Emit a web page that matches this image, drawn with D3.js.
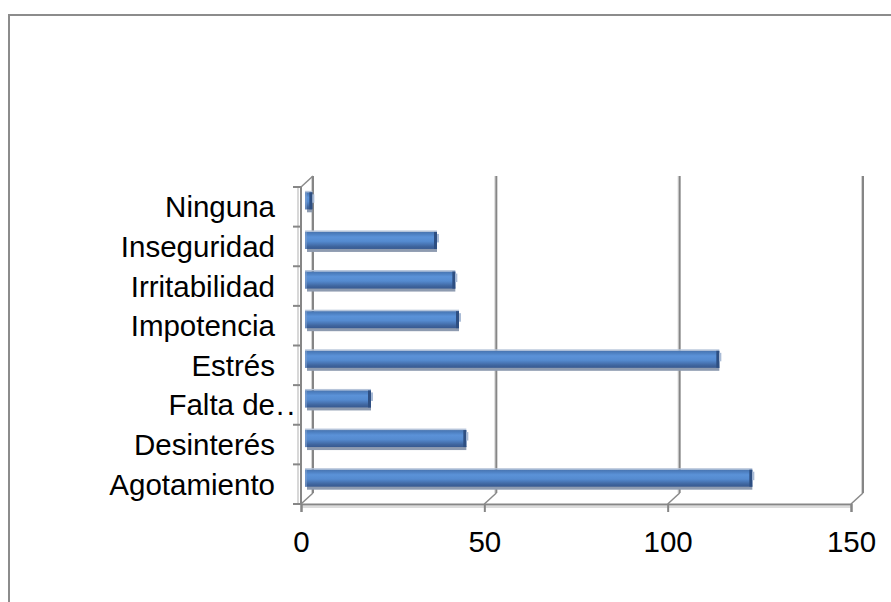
<!DOCTYPE html>
<html><head><meta charset="utf-8">
<script src="https://cdn.jsdelivr.net/npm/d3@7"></script>
<style>
html,body{margin:0;padding:0;background:#fff;}
svg{display:block;font-family:"Liberation Sans",Arial,sans-serif;}
</style></head>
<body>
<svg id="c" width="891" height="602"></svg>
<script>
// data
const categories = ["Agotamiento","Desinterés","Falta de..","Estrés","Impotencia","Irritabilidad","Inseguridad","Ninguna"];
const values = [122, 44, 18, 113, 42, 41, 36, 2];
const xTicks = [0, 50, 100, 150];

const svg = d3.select("#c");
const depthX = 12, depthY = -11;
const FS = 29.5;

// outer frame
svg.append("rect").attr("x",9).attr("y",15).attr("width",900).attr("height",620)
  .attr("fill","#fff").attr("stroke","#8c8c8c").attr("stroke-width",2);

const x = d3.scaleLinear().domain([0,150]).range([301,851]);
const y = d3.scaleBand().domain(categories).range([504,187]);

const yTop = 187, yBot = 504;
const grid = svg.append("g");
xTicks.forEach(v=>{
  const bx = x(v)+depthX;
  grid.append("line").attr("x1",bx-1.5).attr("x2",bx-1.5).attr("y1",yTop+depthY).attr("y2",yBot+depthY)
    .attr("stroke","#d4d4d4").attr("stroke-width",1);
  grid.append("line").attr("x1",bx).attr("x2",bx).attr("y1",yTop+depthY).attr("y2",yBot+depthY)
    .attr("stroke","#868686").attr("stroke-width",2);
  grid.append("line").attr("x1",x(v)).attr("y1",yBot).attr("x2",bx).attr("y2",yBot+depthY)
    .attr("stroke","#8a8a8a").attr("stroke-width",1.5);
});
grid.append("line").attr("x1",x(0)).attr("y1",yTop).attr("x2",x(0)+depthX).attr("y2",yTop+depthY)
  .attr("stroke","#8a8a8a").attr("stroke-width",1.5);
grid.append("line").attr("x1",x(0)-3).attr("x2",x(0)-3).attr("y1",yTop).attr("y2",yBot)
  .attr("stroke","#d8d8d8").attr("stroke-width",2);
grid.append("line").attr("x1",x(0)).attr("x2",x(0)).attr("y1",yTop).attr("y2",yBot)
  .attr("stroke","#868686").attr("stroke-width",2);
grid.append("line").attr("x1",x(0)).attr("x2",x(150)).attr("y1",yBot+3).attr("y2",yBot+3)
  .attr("stroke","#dcdcdc").attr("stroke-width",2);

const bounds = categories.map(c=>y(c)).concat([y(categories[0])+y.step()]);
bounds.forEach(b=>{
  grid.append("line").attr("x1",x(0)-8).attr("x2",x(0)).attr("y1",b).attr("y2",b)
    .attr("stroke","#868686").attr("stroke-width",2);
});

// bottom axis
const xAxis = d3.axisBottom(x).tickValues(xTicks).tickSize(8).tickPadding(19).tickFormat(d3.format("d"));
const gx = svg.append("g").attr("transform",`translate(0,${yBot})`).call(xAxis);
gx.select(".domain").attr("stroke","#868686").attr("stroke-width",2);
gx.selectAll(".tick line").attr("stroke","#868686").attr("stroke-width",2);
gx.selectAll(".tick text").attr("font-size",FS).attr("fill","#000")
  .attr("font-family","'Liberation Sans', Arial, sans-serif");

// category labels
const lab = svg.append("g");
categories.forEach(c=>{
  const cy = y(c)+y.bandwidth()/2;
  const t = lab.append("text").attr("y",cy+10.5).attr("font-size",FS).attr("fill","#000")
    .attr("x",275).attr("text-anchor","end");
  if (c.endsWith("..")) {
    t.text(c.slice(0,-2));
    lab.append("text").attr("x",276).attr("y",cy+10.5).attr("font-size",FS).attr("fill","#000")
      .attr("letter-spacing",2.5).text("..");
  } else {
    t.text(c);
  }
});

// bar gradient
const defs = svg.append("defs");
const gr = defs.append("linearGradient").attr("id","bg").attr("x1",0).attr("x2",0).attr("y1",0).attr("y2",1);
[[0,"#4874b0"],[0.15,"#4f82c4"],[0.3,"#5b92d8"],[0.55,"#558bd0"],[0.7,"#4a78b8"],[0.85,"#3f659e"],[1,"#375990"]]
  .forEach(([o,c])=>gr.append("stop").attr("offset",o).attr("stop-color",c));

const barOff = 4, barShiftY = -6, bh = 17;
const bars = svg.append("g");
categories.forEach((c,i)=>{
  const v = values[i];
  const cy = y(c)+y.bandwidth()/2 + barShiftY;
  const x0 = x(0)+barOff, x1 = x(v)+barOff;
  const w = Math.max(x1-x0,4);
  bars.append("rect").attr("x",x0).attr("y",cy-bh/2-1.5).attr("width",w).attr("height",1.5)
    .attr("fill","#b7c5da");
  bars.append("rect").attr("x",x0+2).attr("y",cy+bh/2-1).attr("width",Math.max(w-2,2)).attr("height",4)
    .attr("fill","#8e9bb0");
  bars.append("rect").attr("x",x0).attr("y",cy-bh/2).attr("width",w).attr("height",bh)
    .attr("fill","url(#bg)");
  bars.append("rect").attr("x",x0).attr("y",cy-bh/2).attr("width",2).attr("height",bh)
    .attr("fill","#7f9fcc").attr("opacity",0.6);
  bars.append("rect").attr("x",x0+w-3).attr("y",cy-bh/2).attr("width",3).attr("height",bh)
    .attr("fill","#2e4f82");
  bars.append("rect").attr("x",x0+w).attr("y",cy-bh/2+2).attr("width",2).attr("height",bh/2)
    .attr("fill","#a9bbd6");
});
</script>
</body></html>
